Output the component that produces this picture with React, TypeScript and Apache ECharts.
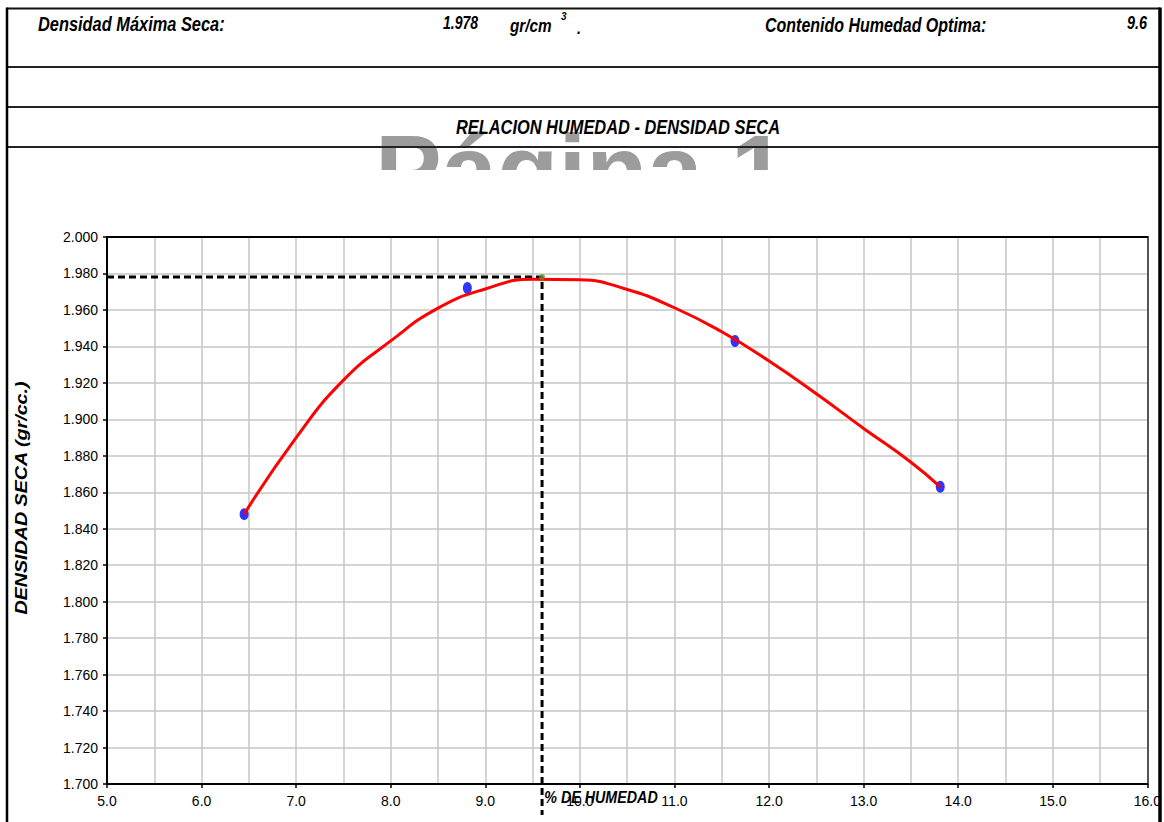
import React, { useEffect, useRef } from "react";
import * as echarts from "echarts";

// ---- data ----
const pointMoisture = [6.45, 8.81, 11.64, 13.81];
const pointDensity = [1.848, 1.972, 1.943, 1.863];

const curveMoisture = [6.45, 7.0, 7.5, 8.0, 8.5, 9.0, 9.5, 10.0, 10.5, 11.0, 11.5, 12.0, 12.5, 13.0, 13.5, 13.81];
const curveDensity = [1.848, 1.89, 1.9215, 1.943, 1.961, 1.9715, 1.9768, 1.9765, 1.9712, 1.9612, 1.948, 1.932, 1.914, 1.895, 1.8765, 1.863];

const maxDensity = 1.978;
const optMoisture = 9.6;
const guideBottom = 1.683;

const xRange = [5, 16];
const xStep = 1;
const yRange = [1.7, 2.0];
const yStep = 0.02;

const headerLabels = ["Densidad Máxima Seca:", "Contenido Humedad Optima:"];
const unitLabel = "gr/cm";
const chartTitle = "RELACION HUMEDAD - DENSIDAD SECA";
const xTitle = "% DE HUMEDAD";
const yTitle = "DENSIDAD SECA (gr/cc.)";
const watermark = "Página 1";

const FONT = '"Liberation Sans", Arial, sans-serif';

export default function App() {
  const ref = useRef<HTMLDivElement>(null);

  useEffect(() => {
    if (!ref.current) return;
    const chart = echarts.init(ref.current, null, { renderer: "svg" });

    const hText = (text: string, x: number, y: number, size: number, align = "left", sx = 0.82) => ({
      type: "text",
      z: 50,
      x,
      y,
      scaleX: sx,
      style: {
        text,
        fill: "#000",
        fontFamily: FONT,
        fontWeight: "bold",
        fontStyle: "italic",
        fontSize: size,
        align,
        textAlign: align,
        verticalAlign: "middle",
        textVerticalAlign: "middle",
      },
    });
    const hLine = (x1: number, y1: number, x2: number, y2: number, w: number, c = "#111") => ({
      type: "line",
      z: 60,
      shape: { x1, y1, x2, y2 },
      style: { stroke: c, lineWidth: w },
    });

    const option: any = {
      animation: false,
      backgroundColor: "#ffffff",
      grid: { left: 107, top: 237, right: 16, bottom: 38, containLabel: false },
      xAxis: [
        {
          type: "value",
          min: xRange[0],
          max: xRange[1],
          interval: xStep,
          axisLine: { show: true, onZero: false, lineStyle: { color: "#000", width: 2 } },
          axisTick: { show: true, length: 4, lineStyle: { color: "#000", width: 1.5 } },
          axisLabel: {
            margin: 10,
            color: "#000",
            fontFamily: FONT,
            fontSize: 14,
            formatter: (v: number) => v.toFixed(1),
          },
          splitLine: { show: true, showMinLine: false, showMaxLine: false, lineStyle: { color: "#c6c6c6", width: 1.5 } },
          minorTick: { show: false, splitNumber: 2 },
          minorSplitLine: { show: true, lineStyle: { color: "#c6c6c6", width: 1.5 } },
        },
        {
          type: "value",
          position: "top",
          min: xRange[0],
          max: xRange[1],
          axisLine: { show: true, onZero: false, lineStyle: { color: "#000", width: 2 } },
          axisTick: { show: false },
          axisLabel: { show: false },
          splitLine: { show: false },
        },
      ],
      yAxis: [
        {
          type: "value",
          min: yRange[0],
          max: yRange[1],
          interval: yStep,
          axisLine: { show: true, onZero: false, lineStyle: { color: "#000", width: 2 } },
          axisTick: { show: true, length: 4, lineStyle: { color: "#000", width: 1.5 } },
          axisLabel: {
            margin: 9,
            color: "#000",
            fontFamily: FONT,
            fontSize: 14,
            formatter: (v: number) => v.toFixed(3),
          },
          splitLine: { show: true, showMinLine: false, showMaxLine: false, lineStyle: { color: "#c6c6c6", width: 1.5 } },
        },
        {
          type: "value",
          position: "right",
          min: yRange[0],
          max: yRange[1],
          axisLine: { show: true, onZero: false, lineStyle: { color: "#555", width: 2 } },
          axisTick: { show: false },
          axisLabel: { show: false },
          splitLine: { show: false },
        },
      ],
      series: [
        {
          type: "line",
          name: "guide",
          data: [
            [xRange[0], maxDensity],
            [optMoisture, maxDensity],
            [optMoisture, guideBottom],
          ],
          clip: false,
          symbol: "none",
          z: 3,
          lineStyle: { color: "#000", width: 3, type: [7, 4] },
        },
        {
          type: "scatter",
          name: "points",
          data: pointMoisture.map((x, i) => [x, pointDensity[i]]),
          symbol: "circle",
          symbolSize: [9, 12],
          z: 4,
          itemStyle: { color: "#0000ff" },
        },
        {
          type: "line",
          name: "curve",
          data: curveMoisture.map((x, i) => [x, curveDensity[i]]),
          smooth: 0.5,
          symbol: "none",
          z: 5,
          lineStyle: { color: "#ff0000", width: 3 },
        },
        {
          type: "scatter",
          name: "optimum",
          data: [[optMoisture, maxDensity]],
          symbol: "circle",
          symbolSize: 6,
          z: 6,
          itemStyle: { color: "#6b8e23" },
        },
      ],
      graphic: [
        {
          type: "text",
          z: -10,
          x: 375,
          y: 170,
          scaleX: 1.0,
          style: {
            text: watermark,
            fill: "#9c9c9c",
            fontFamily: FONT,
            fontWeight: "bold",
            fontSize: 100,
            verticalAlign: "middle",
            textVerticalAlign: "middle",
          },
        },
        { type: "rect", z: -9, shape: { x: 9, y: 170, width: 1150, height: 660 }, style: { fill: "#ffffff" } },
        { type: "rect", z: 55, shape: { x: 1161, y: 0, width: 10, height: 822 }, style: { fill: "#ffffff" } },
        hLine(7, 8.5, 1160, 8.5, 2),
        hLine(7, 67, 1160, 67, 2, "#222"),
        hLine(7, 107, 1160, 107, 2, "#222"),
        hLine(7, 147, 1160, 147, 2, "#222"),
        hLine(7, 7.5, 7, 822, 2.5, "#000"),
        hLine(1160, 7.5, 1160, 822, 3.5, "#000"),
        hText(headerLabels[0], 38, 24, 20, "left", 0.82),
        hText(maxDensity.toFixed(3), 443, 22, 18, "left", 0.78),
        hText(unitLabel, 510, 26, 18, "left", 0.85),
        hText("3", 561, 16, 11, "left", 0.9),
        hText(".", 577, 28, 16, "left", 0.9),
        hText(headerLabels[1], 765, 25, 20, "left", 0.8),
        hText(optMoisture.toFixed(1), 1147, 22, 18, "right", 0.8),
        hText(chartTitle, 618, 127, 20, "center", 0.82),
        hText(xTitle, 601, 797, 17, "center", 0.84),
        {
          type: "text",
          z: 50,
          x: 22,
          y: 498,
          rotation: Math.PI / 2,
          scaleX: 1.23,
          style: {
            text: yTitle,
            fill: "#000",
            fontFamily: FONT,
            fontWeight: "bold",
            fontStyle: "italic",
            fontSize: 16,
            align: "center",
            textAlign: "center",
            verticalAlign: "middle",
            textVerticalAlign: "middle",
          },
        },
      ],
    };

    chart.setOption(option);
    return () => chart.dispose();
  }, []);

  return (
    <div
      ref={ref}
      style={{ position: "fixed", left: 0, top: 0, width: 1164, height: 822, background: "#fff" }}
    />
  );
}
